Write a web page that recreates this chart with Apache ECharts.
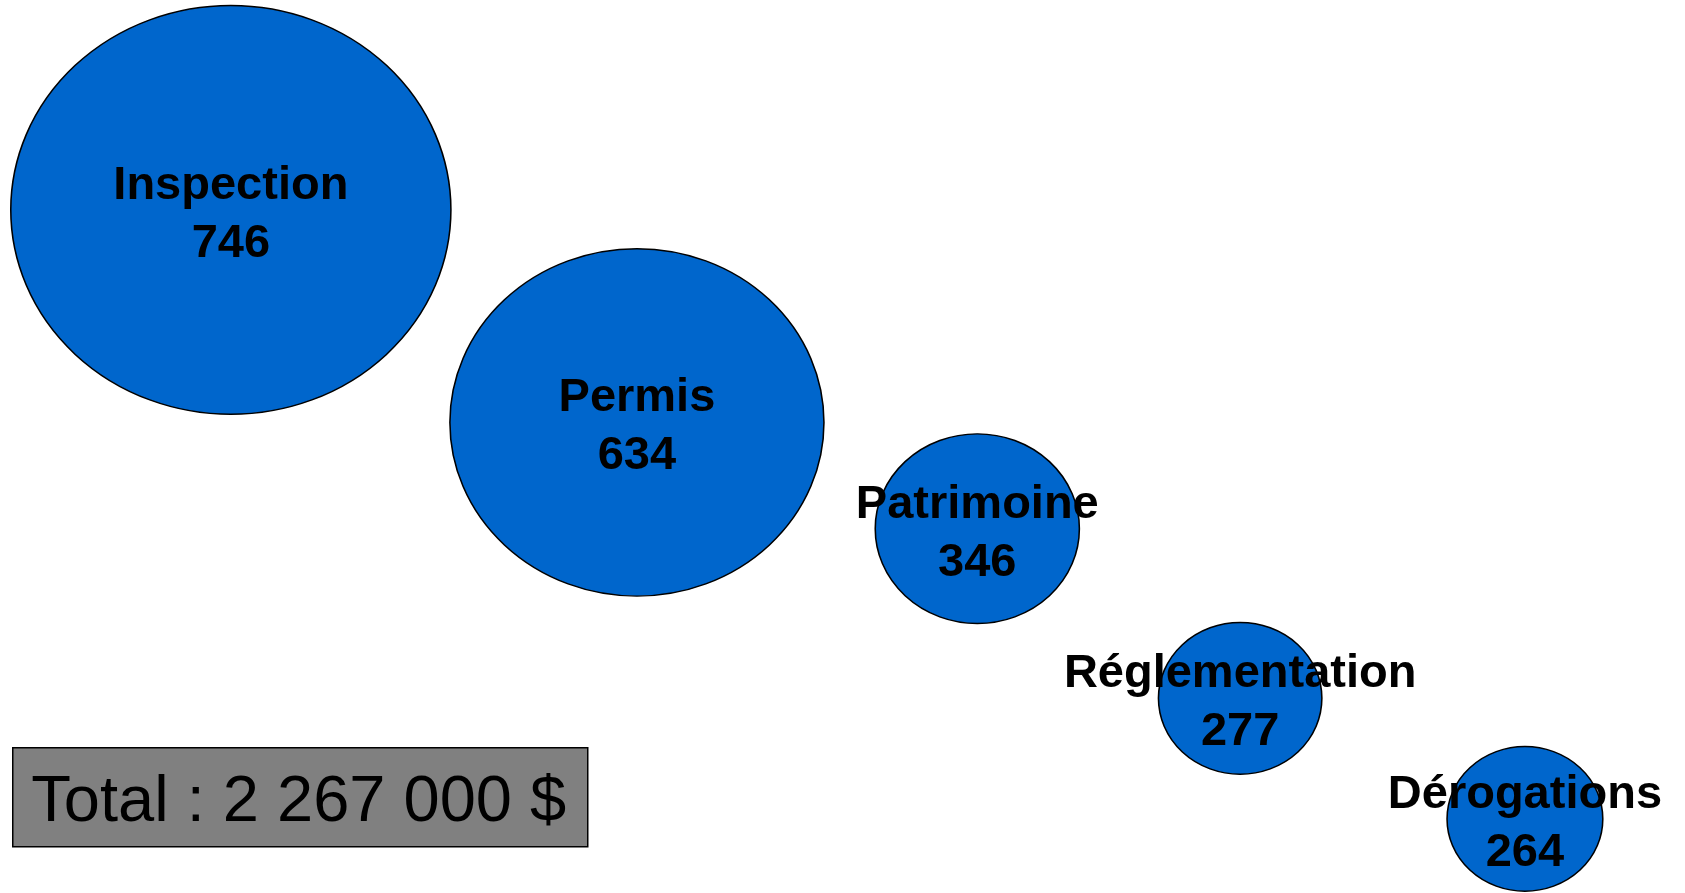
<!DOCTYPE html>
<html>
<head>
<meta charset="utf-8">
<title>Répartition</title>
<script src="https://cdn.jsdelivr.net/npm/echarts@6/dist/echarts.min.js"></script>
<style>
    html, body { margin: 0; padding: 0; background: #fff; }
    #main { width: 1685px; height: 893px; }
</style>
</head>
<body>
<div id="main"></div>
<script>
// categories and values
var categories = ['Inspection', 'Permis', 'Patrimoine', 'Réglementation', 'Dérogations'];
var values = [746, 634, 346, 277, 264];
// bubble positions (x / y on a 0-100 scale)
var posX = [13.7, 37.8, 58.0, 73.6, 90.5];
var posY = [76.5, 52.7, 40.8, 21.8, 8.3];
var totalText = 'Total : 2 267 000 $';

var chart = echarts.init(document.getElementById('main'));

var points = [];
for (var i = 0; i < categories.length; i++) {
    points.push({ name: categories[i], value: [posX[i], posY[i], values[i]] });
}

var option = {
    animation: false,
    grid: { left: 0, right: 0, top: 0, bottom: 0 },
    xAxis: { type: 'value', min: 0, max: 100, show: false },
    yAxis: { type: 'value', min: 0, max: 100, show: false },
    series: [{
        type: 'scatter',
        data: points,
        // la taille de la bulle suit la valeur (un peu plus large que haute)
        symbolSize: function (val) {
            return [val[2] * 0.59, val[2] * 0.548];
        },
        itemStyle: {
            color: '#0066cc',
            borderColor: '#000',
            borderWidth: 1.5,
            opacity: 1
        },
        label: {
            show: true,
            position: 'inside',
            offset: [0, 5],
            formatter: function (p) {
                return p.name + '\n' + p.value[2];
            },
            color: '#000',
            fontFamily: 'Liberation Sans, Arial, sans-serif',
            fontWeight: 'bold',
            fontSize: 47,
            lineHeight: 58,
            align: 'center'
        },
        emphasis: { disabled: true }
    }],
    graphic: [{
        type: 'group',
        left: 12,
        top: 747,
        children: [{
            type: 'rect',
            shape: { x: 0, y: 0, width: 575, height: 99 },
            style: { fill: '#808080', stroke: '#000', lineWidth: 1.5 }
        }, {
            type: 'text',
            x: 286,
            y: 55,
            style: {
                text: totalText,
                fill: '#000',
                font: '65px "Liberation Sans", Arial, sans-serif',
                textAlign: 'center',
                textVerticalAlign: 'middle'
            }
        }]
    }]
};

chart.setOption(option);
</script>
</body>
</html>
